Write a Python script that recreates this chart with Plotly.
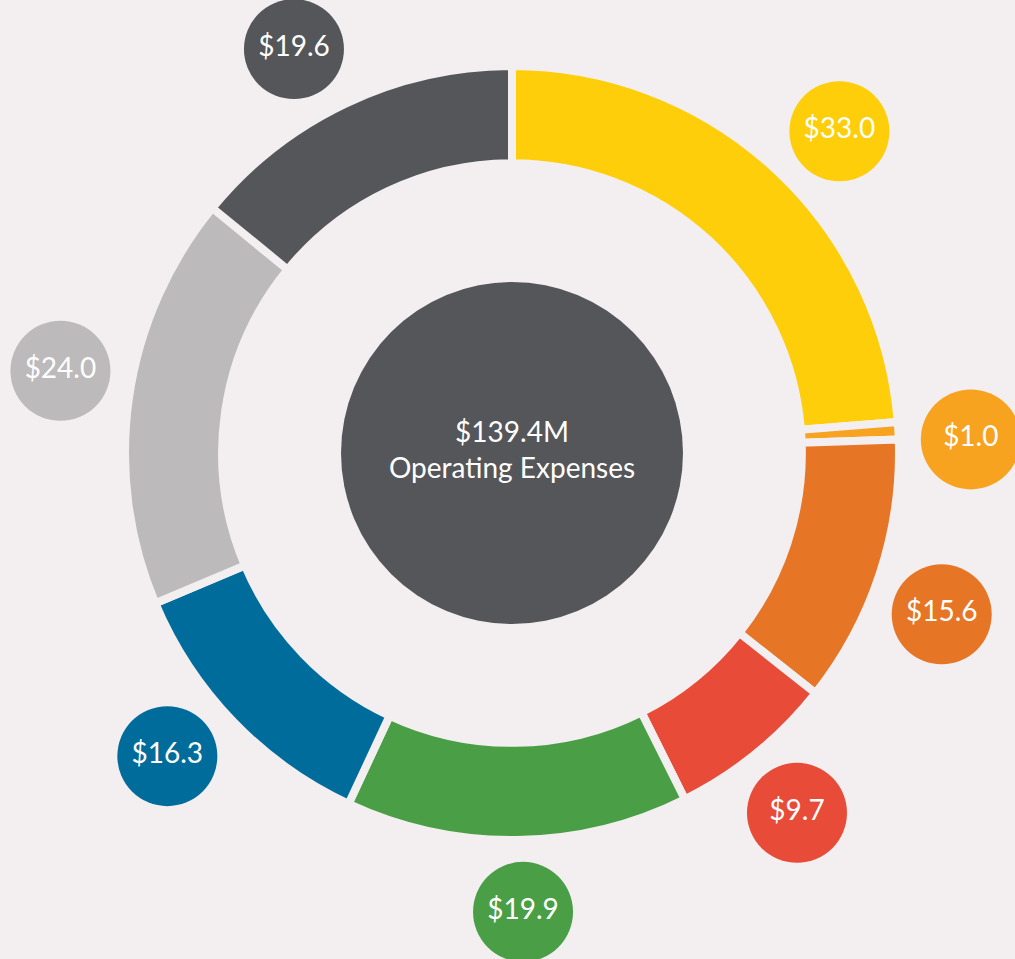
import math
import plotly.graph_objects as go

# operating expenses, $M, clockwise from 12 o'clock
amounts = [33.0, 1.0, 15.6, 9.7, 19.9, 16.3, 24.0, 19.6]
amount_labels = ['$33.0', '$1.0', '$15.6', '$9.7', '$19.9', '$16.3', '$24.0', '$19.6']
slice_colors = ['#FECE0B', '#F7A31F', '#E77526', '#E84B37', '#4A9F46', '#006C9C', '#BCBABA', '#55565A']
total_text = '$139.4M<br>Operating Expenses'

W, H = 1015, 959
BG = '#F3EFF0'
FONT = 'Lato'

# donut geometry (px)
cx, cy = 512, 453
R = 387          # pie radius incl. half of the separator stroke
gap = 8
hole = 0.749
center_r = 171
badge_dist = 459
badge_size = 100
# small hand nudges of the badges, degrees (designer placement)
label_nudge_deg = [2.8, 1.6, 2.4, 0.7, -0.6, 2.6, 2.1, -3.0]

fig = go.Figure()

fig.add_trace(go.Pie(
    values=amounts, labels=amount_labels, sort=False, direction='clockwise', rotation=0,
    hole=hole, textinfo='none', hoverinfo='label',
    marker=dict(colors=slice_colors, line=dict(color=BG, width=gap)),
    domain=dict(x=[(cx - R) / W, (cx + R) / W], y=[(H - cy - R) / H, (H - cy + R) / H]),
    showlegend=False,
))

# badges at the middle of each slice
total = sum(amounts)
bx, by = [], []
run = 0
for v, nudge in zip(amounts, label_nudge_deg):
    mid = (run + v / 2) / total * 360 + nudge
    run += v
    a = math.radians(mid)
    bx.append(cx + badge_dist * math.sin(a))
    by.append(cy - badge_dist * math.cos(a))

fig.add_trace(go.Scatter(
    x=bx, y=by, mode='markers+text', text=amount_labels, textposition='middle center',
    marker=dict(size=badge_size, color=slice_colors, line=dict(width=0)),
    textfont=dict(family=FONT, size=28, color='white'),
    hoverinfo='skip', showlegend=False,
))

# centre disc
fig.add_trace(go.Scatter(
    x=[cx], y=[cy], mode='markers+text', text=[total_text], textposition='middle center',
    marker=dict(size=2 * center_r, color='#55565A', line=dict(width=0)),
    textfont=dict(family=FONT, size=28, color='white'),
    hoverinfo='skip', showlegend=False,
))

fig.update_layout(
    width=W, height=H, margin=dict(l=0, r=0, t=0, b=0),
    paper_bgcolor=BG, plot_bgcolor='rgba(0,0,0,0)',
    xaxis=dict(range=[0, W], visible=False, fixedrange=True),
    yaxis=dict(range=[H, 0], visible=False, fixedrange=True),
    font=dict(family=FONT),
)

fig.write_html('out.html', config={'displayModeBar': False},
               post_script="document.body.style.margin='0';")
